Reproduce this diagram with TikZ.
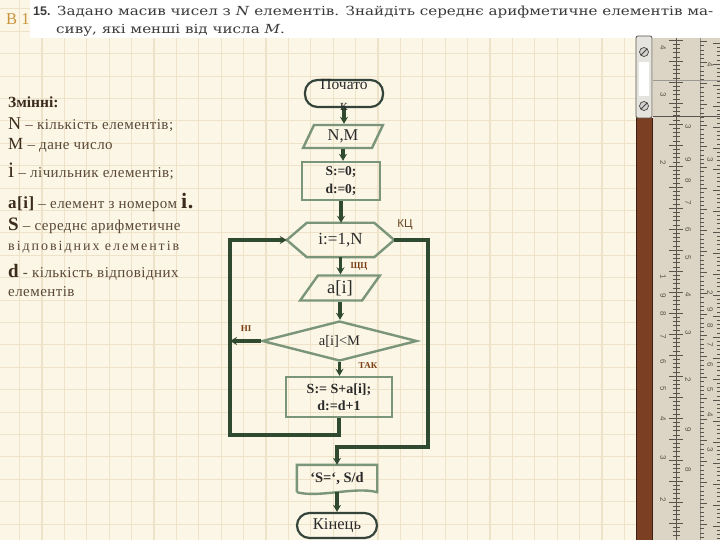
\documentclass[tikz,border=0pt]{standalone}
\usepackage{fontspec}
\setmainfont{Liberation Serif}
\newfontfamily\titlefont{DejaVu Serif}
\newfontfamily\sansfnt{Liberation Sans}
\newfontfamily\bodyfont[LetterSpace=3]{Liberation Serif}
\newfontfamily\widefont[LetterSpace=14]{Liberation Serif}
\usetikzlibrary{shapes.geometric,arrows.meta,calc}
\definecolor{paper}{HTML}{FBF6E6}
\definecolor{gridc}{HTML}{EEE3C8}
\definecolor{flowline}{HTML}{2F4A30}
\definecolor{shapeline}{HTML}{7A957A}
\definecolor{termline}{HTML}{34443A}
\definecolor{txt}{HTML}{5A4836}
\definecolor{txtdark}{HTML}{3C2C1C}
\definecolor{lbl}{HTML}{7A3E14}
\definecolor{kclbl}{HTML}{6B4423}
\definecolor{shtxt}{HTML}{2A2A2A}
\definecolor{titlec}{HTML}{3A3A3A}
\definecolor{bonec}{HTML}{C8943C}
\definecolor{rulerc}{HTML}{DCD5C5}
\definecolor{tickc}{HTML}{5A554C}
\definecolor{clipc}{HTML}{E6E4DE}
\definecolor{brownc}{HTML}{7B3F24}
\newlength\titlewA
\newcommand\titleLineA{Задано масив чисел з \textit{N} елементів. Знайдіть середнє арифметичне елементів ма-}
\newcommand\titleLineB{сиву, які менші від числа \textit{M}.}
\begin{document}
\settowidth{\titlewA}{\titlefont\fontsize{12.5}{14}\selectfont\titleLineA}%
\pgfmathsetmacro\tsc{656/\titlewA}%
\begin{tikzpicture}[x=1pt,y=-1pt,
  flow/.style={draw=flowline, line width=3.2pt},
  arr/.style={flow, -{Stealth[length=7pt,width=8pt]}},
  boxshape/.style={draw=shapeline, line width=2.4pt, inner sep=0pt, text=shtxt},
  termshape/.style={draw=termline, line width=2.2pt, inner sep=0pt, rectangle, rounded corners=12.5pt, text=shtxt},
  lefttxt/.style={anchor=base west, inner sep=0pt, text=txt, font=\bodyfont\fontsize{15}{17}\selectfont},
  widetxt/.style={anchor=base west, inner sep=0pt, text=txt, font=\widefont\fontsize{14}{17}\selectfont},
  smalllbl/.style={inner sep=0pt, text=lbl, font=\bfseries\fontsize{9}{10}\selectfont},
  rnum/.style={rotate=-90, inner sep=0pt, text=tickc, font=\sansfnt\fontsize{8}{8}\selectfont}]
\useasboundingbox (0,0) rectangle (720,540);
% paper and grid
\fill[paper] (0,0) rectangle (720,540);
\foreach \i in {0,...,32}{\draw[gridc,line width=1.1pt] (19.6+22.4*\i,0) -- (19.6+22.4*\i,540);}
\foreach \j in {0,...,24}{\draw[gridc,line width=1.1pt] (0,8.9+22.4*\j) -- (720,8.9+22.4*\j);}
% title
\node[anchor=base west, inner sep=0pt, text=bonec, font=\fontsize{16.5}{18}\selectfont] (bnum) at (6,25) {В 1};
\fill[white] (30,0) rectangle (720,38);
\node[anchor=base west, inner sep=0pt, text=titlec, font=\sansfnt\bfseries\fontsize{12.5}{14}\selectfont] (tnum) at (33,16) {15.};
\node[anchor=base west, inner sep=0pt, text=titlec] (t1) at (57,16) {\scalebox{\tsc}[1]{\titlefont\fontsize{12.5}{14}\selectfont\titleLineA}};
\node[anchor=base west, inner sep=0pt, text=titlec] (t2) at (56,34) {\scalebox{\tsc}[1]{\titlefont\fontsize{12.5}{14}\selectfont\titleLineB}};
% ruler
\fill[rulerc] (653,38) rectangle (720,540);
\draw[tickc!60, line width=0.6pt] (653,80) -- (720,80);
\draw[tickc, line width=0.8pt] (653,116) -- (720,116);
\draw[tickc, line width=0.8pt] (676,38) -- (676,540);
\draw[tickc!70, line width=0.6pt] (700,38) -- (700,540);
\foreach \k in {0,...,118}{
  \pgfmathsetmacro\yy{40+4.2*\k}
  \pgfmathsetmacro\tl{ifthenelse(mod(\k,5)==0,7,3.5)}
  \draw[tickc, line width=0.5pt] (676-\tl,\yy) -- (676+\tl,\yy);
  \draw[tickc, line width=0.5pt] (700,\yy+1.5) -- (700+\tl,\yy+1.5);
  \draw[tickc, line width=0.5pt] (720-\tl,\yy+3) -- (720,\yy+3);
}
\foreach \n/\yy in {4/48,3/95,2/163,1/277,9/296,8/314,7/337,6/362,5/389,4/419,3/458,2/500}{
  \node[rnum] (rnA\yy) at (663,\yy) {\n};}
\foreach \n/\yy in {3/127,9/160,8/181,7/203,6/230,5/258,4/295,3/333,2/380,9/430,8/470}{
  \node[rnum] (rnB\yy) at (688,\yy) {\n};}
\foreach \n/\yy in {4/65,3/160,2/293,9/310,8/326,7/345,6/365,5/390,4/415,3/450}{
  \node[rnum] (rnC\yy) at (710,\yy) {\n};}
\fill[brownc] (636,118) rectangle (652,540);
\draw[brownc!50!black, line width=0.8pt] (636,118) -- (636,540);
\draw[brownc!50!black, line width=0.6pt] (652,118) -- (652,540);
\draw[fill=clipc, draw=tickc, line width=0.8pt, rounded corners=2pt] (636,36) rectangle (652,118);
\fill[white] (639,62) rectangle (649,96);
\draw[fill=gray!35, draw=tickc!80!black, line width=0.7pt] (644,52) circle (4.5);
\draw[tickc!80!black, line width=0.9pt] (641,55) -- (647,49);
\draw[fill=gray!35, draw=tickc!80!black, line width=0.7pt] (644,106) circle (4.5);
\draw[tickc!80!black, line width=0.9pt] (641,109) -- (647,103);
% left explanatory text
\node[anchor=base west, inner sep=0pt, text=txtdark, font=\bfseries\fontsize{15.5}{18}\selectfont] (vars) at (8,108) {Змінні:};
\node[lefttxt] (vN) at (8,130) {{\color{txtdark}\fontsize{18}{18}\selectfont N} – кількість елементів;};
\node[lefttxt] (vM) at (8,150) {{\color{txtdark}\fontsize{17}{18}\selectfont M} – дане число};
\node[lefttxt] (vi) at (8,178) {{\color{txtdark}\fontsize{22}{22}\selectfont i} – лічильник елементів;};
\node[lefttxt] (va) at (8,208) {{\color{txtdark}\bfseries\fontsize{17}{18}\selectfont a[i]} – елемент з номером {\color{txtdark}\bfseries\fontsize{22}{22}\selectfont i.}};
\node[lefttxt] (vS) at (8,230) {{\color{txtdark}\bfseries\fontsize{19}{20}\selectfont S} – середнє арифметичне};
\node[widetxt] (vS2) at (8,251) {відповідних елементів};
\node[lefttxt] (vd) at (8,277) {{\color{txtdark}\bfseries\fontsize{19}{20}\selectfont d} - кількість відповідних};
\node[lefttxt] (vd2) at (8,296) {елементів};
% flowchart shapes
\node[termshape, minimum width=78pt, minimum height=27pt] (start) at (344,93.5) {};
\node[boxshape, trapezium, trapezium left angle=66.5, trapezium right angle=113.5, trapezium stretches=true,
      minimum width=80pt, minimum height=23pt, font=\fontsize{16.5}{18}\selectfont] (nm) at (343,136.5) {N,M};
\node[boxshape, rectangle, minimum width=78pt, minimum height=38pt, align=center,
      font=\bfseries\fontsize{13.5}{18}\selectfont] (s0) at (341,181) {S:=0;\\d:=0;};
\node[inner sep=0pt, minimum width=107pt, minimum height=34pt, text=shtxt, font=\fontsize{17}{18}\selectfont] (loop) at (340.5,240) {i:=1,N};
\draw[draw=shapeline, line width=2.4pt] (loop.west) -- ([xshift=20pt]loop.north west) -- ([xshift=-20pt]loop.north east)
   -- (loop.east) -- ([xshift=-20pt]loop.south east) -- ([xshift=20pt]loop.south west) -- cycle;
\node[boxshape, trapezium, trapezium left angle=56, trapezium right angle=124, trapezium stretches=true,
      minimum width=80pt, minimum height=25pt, font=\fontsize{18.5}{20}\selectfont] (ain) at (340,288) {a[i]};
\node[boxshape, diamond, aspect=3.9, minimum width=155pt, minimum height=40pt, font=\fontsize{14.5}{16}\selectfont] (dia) at (339.5,341) {a[i]<M};
\node[boxshape, rectangle, minimum width=106pt, minimum height=40pt, align=center,
      font=\bfseries\fontsize{14}{17}\selectfont] (box2) at (339,397) {S:= S+a[i];\\d:=d+1};
\node[inner sep=0pt, minimum width=80pt, minimum height=27pt, text=shtxt, font=\bfseries\fontsize{14.5}{16}\selectfont] (out) at (337,478.5) {‘S=‘, S/d};
\draw[draw=shapeline, line width=2.4pt] (out.south west) -- (out.north west) -- (out.north east) -- (out.south east)
   .. controls ($(out.south east)+(-22,-6)$) and ($(out.south west)+(22,6)$) .. (out.south west);
\node[termshape, minimum width=80pt, minimum height=25pt, font=\fontsize{16.5}{18}\selectfont] (end) at (337,525.5) {Кінець};
% connectors
\coordinate (lb) at (230,435);
\coordinate (ex) at (428,447);
\draw[arr] (start.south) -- (start.south |- nm.north);
\draw[arr] (nm.south) -- (nm.south |- s0.north);
\draw[arr] (s0.south) -- (s0.south |- loop.north);
\draw[arr] (loop.south) -- (loop.south |- ain.north);
\draw[arr] (ain.south) -- (ain.south |- dia.north);
\draw[arr] (dia.south) -- (dia.south |- box2.north);
\draw[arr] (box2.south) -- (box2.south |- lb) -- (lb) -- (lb |- loop.west) -- (loop.west);
\draw[arr] (dia.west) -- (dia.west -| lb);
\draw[arr] (loop.east) -- (loop.east -| ex) -- (ex) -- (ex -| out.north) -- (out.north);
\draw[arr] (out.south) -- (out.south |- end.north);
% start text (over the terminator and its arrow)
\node[inner sep=0pt, align=center, text=shtxt, font=\fontsize{15.5}{21}\selectfont] (starttxt) at (344,95) {Почато\\к};
% labels
\node[inner sep=0pt, text=kclbl, font=\sansfnt\fontsize{11.5}{12}\selectfont] (kc) at (405,225) {КЦ};
\node[smalllbl] (shc) at (359,267) {ЩЦ};
\node[smalllbl] (ni) at (246,329) {НІ};
\node[smalllbl] (tak) at (368,366) {ТАК};
\end{tikzpicture}
\end{document}
